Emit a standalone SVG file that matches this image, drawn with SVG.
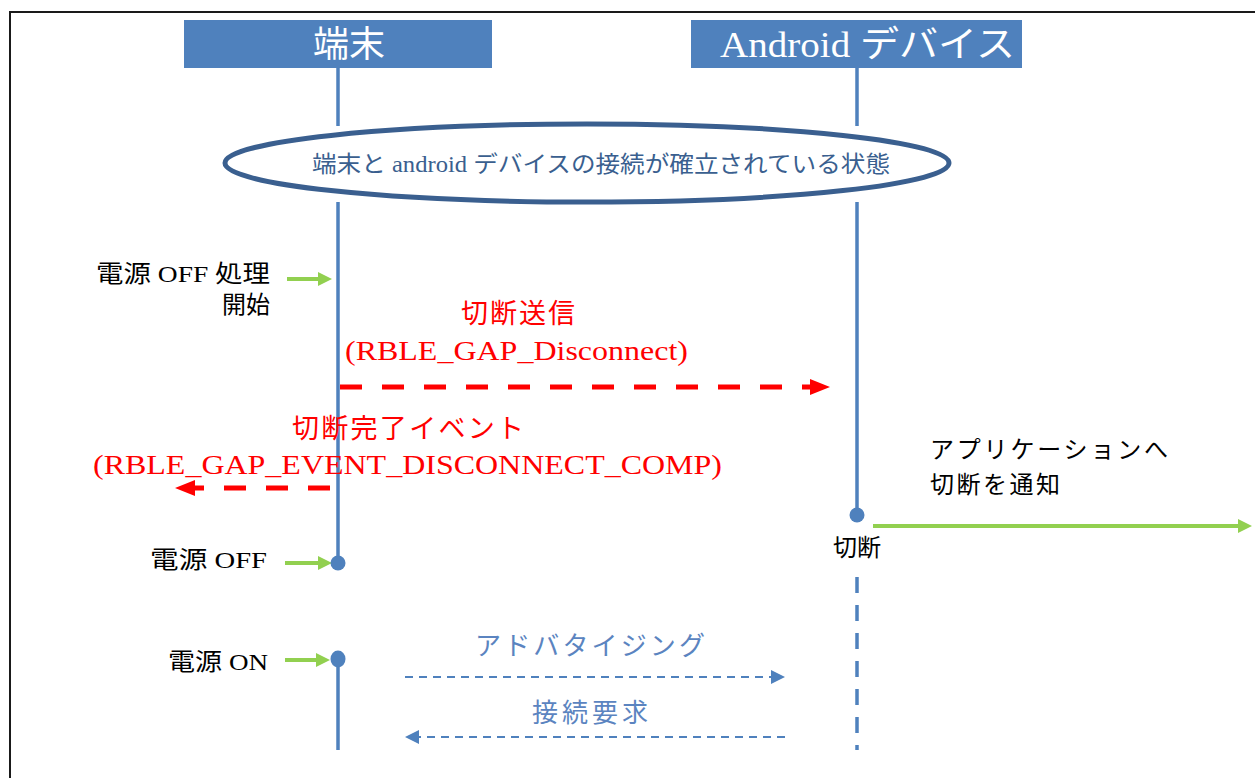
<svg xmlns="http://www.w3.org/2000/svg" width="1255" height="778" viewBox="0 0 1255 778">
<style>
.jp{font-family:"Liberation Serif","Noto Sans CJK JP",serif;}
.blk{fill:#000;font-size:24px;}
.red{fill:#ff0000;font-size:27px;}
.blu{fill:#5b84c0;font-size:26px;}
.hdr{fill:#fff;font-size:36px;}
.life{stroke:#4f81bd;stroke-width:3.5;fill:none;}
.grn{stroke:#92d050;stroke-width:4;fill:none;}
.rdash{stroke:#ff0000;stroke-width:5;stroke-dasharray:22 20;fill:none;}
.bdash{stroke:#4f81bd;stroke-width:2;stroke-dasharray:8 6;fill:none;}
</style>
<defs>
<marker id="mg" markerUnits="userSpaceOnUse" markerWidth="14" markerHeight="14" refX="0" refY="7" orient="auto" viewBox="0 0 14 14"><path d="M0,0 L14,7 L0,14 z" fill="#92d050"/></marker>
<marker id="mr" markerUnits="userSpaceOnUse" markerWidth="20" markerHeight="16" refX="0" refY="8" orient="auto" viewBox="0 0 20 16"><path d="M0,0 L20,8 L0,16 z" fill="#ff0000"/></marker>
<marker id="mb" markerUnits="userSpaceOnUse" markerWidth="14" markerHeight="14" refX="0" refY="7" orient="auto" viewBox="0 0 14 14"><path d="M0,0 L14,7 L0,14 z" fill="#4f81bd"/></marker>
</defs>
<rect x="0" y="0" width="1255" height="778" fill="#fff"/>
<rect x="10" y="12" width="1270" height="800" fill="none" stroke="#1a1a1a" stroke-width="2"/>

<g id="connectors">
<line class="life" x1="338" y1="68" x2="338" y2="126"/>
<line class="life" x1="338" y1="202" x2="338" y2="563"/>
<line class="life" x1="338" y1="659" x2="338" y2="750"/>
<line class="life" x1="857" y1="68" x2="857" y2="126"/>
<line class="life" x1="857" y1="202" x2="857" y2="515"/>
<line class="life" x1="857" y1="577" x2="857" y2="750" stroke-dasharray="16 12"/>
<line class="grn" x1="287" y1="279" x2="318" y2="279" marker-end="url(#mg)"/>
<line class="grn" x1="285" y1="563" x2="318" y2="563" marker-end="url(#mg)"/>
<line class="grn" x1="285" y1="660" x2="316" y2="660" marker-end="url(#mg)"/>
<line class="grn" x1="873" y1="526" x2="1238" y2="526" marker-end="url(#mg)"/>
<line class="rdash" x1="340" y1="387" x2="810" y2="387" marker-end="url(#mr)"/>
<line class="rdash" x1="330" y1="488" x2="195" y2="488" marker-end="url(#mr)"/>
<line class="bdash" x1="405" y1="677" x2="771" y2="677" marker-end="url(#mb)"/>
<line class="bdash" x1="785" y1="737" x2="419" y2="737" marker-end="url(#mb)"/>
</g>

<g id="node-terminal">
<rect x="184" y="20" width="308" height="48" fill="#4f81bd"/>
<text class="jp hdr" x="349" y="57" text-anchor="middle">端末</text>
</g>
<g id="node-android">
<rect x="691" y="20" width="331" height="48" fill="#4f81bd"/>
<text class="jp hdr" x="720" y="57" textLength="295" lengthAdjust="spacingAndGlyphs">Android デバイス</text>
</g>
<g id="node-state">
<ellipse cx="587" cy="163" rx="362" ry="39" fill="#fff" stroke="#3a5f8f" stroke-width="5"/>
<text class="jp" x="312" y="172" font-size="23" fill="#3a5f8f" textLength="578" lengthAdjust="spacingAndGlyphs">端末と android デバイスの接続が確立されている状態</text>
</g>
<g id="dots">
<circle cx="338" cy="563" r="7.5" fill="#4f81bd"/>
<ellipse cx="338" cy="659" rx="7.5" ry="8.5" fill="#4f81bd"/>
<circle cx="857" cy="515" r="7.5" fill="#4f81bd"/>
</g>
<g id="labels">
<text class="jp blk" x="96" y="282" textLength="174" lengthAdjust="spacingAndGlyphs">電源 OFF 処理</text>
<text class="jp blk" x="270" y="313" text-anchor="end">開始</text>
<text class="jp blk" x="150" y="568" textLength="117" lengthAdjust="spacingAndGlyphs">電源 OFF</text>
<text class="jp blk" x="168" y="670" textLength="100" lengthAdjust="spacingAndGlyphs">電源 ON</text>
<text class="jp blk" x="857" y="556" text-anchor="middle" font-size="23">切断</text>
<text class="jp blk" x="930" y="458" textLength="238" lengthAdjust="spacing">アプリケーションへ</text>
<text class="jp blk" x="930" y="493" textLength="130" lengthAdjust="spacing">切断を通知</text>
<text class="jp red" x="461" y="323" textLength="114" lengthAdjust="spacing">切断送信</text>
<text class="jp red" x="345" y="360" textLength="343" lengthAdjust="spacingAndGlyphs">(RBLE_GAP_Disconnect)</text>
<text class="jp red" x="292" y="438" textLength="232" lengthAdjust="spacing">切断完了イベント</text>
<text class="jp red" x="93" y="474" textLength="629" lengthAdjust="spacingAndGlyphs">(RBLE_GAP_EVENT_DISCONNECT_COMP)</text>
<text class="jp blu" x="475" y="655" textLength="230" lengthAdjust="spacing">アドバタイジング</text>
<text class="jp blu" x="532" y="722" textLength="116" lengthAdjust="spacing">接続要求</text>
</g>
</svg>
